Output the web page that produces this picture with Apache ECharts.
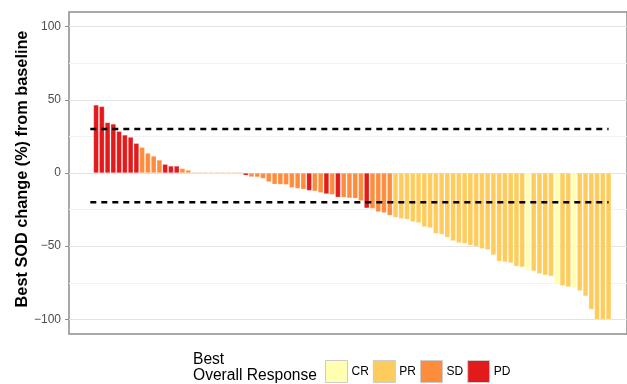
<!DOCTYPE html>
<html>
<head>
<meta charset="utf-8">
<script src="https://cdn.jsdelivr.net/npm/echarts@6/dist/echarts.min.js"></script>
<style>
  html, body { margin: 0; padding: 0; background: #fff; }
  #chart { width: 627px; height: 384px; }
</style>
</head>
<body>
<div id="chart"></div>
<script>
// Best change in sum of diameters (%) per patient, sorted high to low
const sodChange = [
  46.5, 45.5, 34.5, 33.5, 28.5, 26, 24.5, 20.3, 17.6, 13.6,
  11.6, 8.9, 6, 4.8, 4.8, 3.1, 2, 0.6, 0.6, 0.6,
  0.6, 0.6, 0.6, 0.6, 0.6, 0.6, -1.6, -2.7, -2.8, -3.8,
  -6.1, -7.7, -7.8, -8, -10, -10.6, -11.1, -12, -12.4, -13.5,
  -14.3, -14.8, -16.6, -16.6, -17.1, -17.3, -19, -24, -24.3, -26.6,
  -27.2, -29, -30.4, -31.2, -31.7, -33.4, -34, -36.8, -37.5, -41.4,
  -42, -44, -46.4, -47.7, -48.2, -49.4, -50.3, -51.7, -52.5, -56,
  -60.3, -60.8, -61.4, -63.8, -64.3, -66.6, -67, -68.9, -69.8, -70.5,
  -75.5, -77, -77.8, -78.4, -80.5, -84.1, -93.2, -100, -100, -100
];

// Best overall response per patient, same order
const bestResponse = [
  'PD','PD','PD','PD','PD','PD','PD','PD','SD','SD',
  'SD','SD','PD','PD','PD','SD','SD','SD','SD','SD',
  'SD','SD','SD','SD','SD','SD','PD','SD','SD','SD',
  'SD','SD','SD','SD','SD','SD','SD','PD','SD','SD',
  'PD','SD','PD','SD','SD','SD','SD','PD','SD','SD',
  'SD','SD','PR','PR','PR','PR','PR','PR','PR','PR',
  'PR','PR','PR','PR','PR','PR','PR','PR','PR','PR',
  'PR','PR','PR','PR','PR','CR','PR','PR','PR','PR',
  'CR','PR','PR','CR','PR','PR','PR','PR','PR','PR'
];

const responseLevels = ['CR', 'PR', 'SD', 'PD'];
const responseColors = ['#FFFFB2', '#FECC5C', '#FD8D3C', '#E31A1C'];

// Reference lines for progression and response cut-offs
const thresholds = [30, -20];

const yTicks = [-100, -50, 0, 50, 100];
const yMinorTicks = [-75, -25, 25, 75];

const fontFamily = '"Liberation Sans", Arial, Helvetica, sans-serif';

const barSeries = responseLevels.map((level, k) => ({
  name: level,
  type: 'bar',
  barWidth: '90%',
  barGap: '-100%',
  itemStyle: {
    color: responseColors[k],
    borderColor: 'rgba(255,255,255,0.45)',
    borderWidth: 0.5
  },
  data: sodChange
    .map((v, i) => [i + 1, v, bestResponse[i]])
    .filter(d => d[2] === level)
    .map(d => [d[0], d[1]]),
  silent: true,
  z: 2
}));

const n = sodChange.length;
const lineSeries = thresholds.map(t => ({
  type: 'line',
  data: [[0, t], [n, t]],
  symbol: 'none',
  lineStyle: { color: '#000', width: 2.5, type: [6, 5] },
  silent: true,
  z: 5
}));

const chart = echarts.init(document.getElementById('chart'), null, { renderer: 'canvas' });
chart.setOption({
  animation: false,
  backgroundColor: '#fff',
  grid: {
    left: 69, right: -1, top: 12, bottom: 50,
    show: true, borderColor: '#8c8c8c', borderWidth: 1.5, backgroundColor: 'transparent'
  },
  xAxis: {
    type: 'value',
    min: -3.7,
    max: 93.2,
    show: false
  },
  yAxis: [{
    type: 'value',
    min: -110,
    max: 110,
    name: 'Best SOD change (%) from baseline',
    nameLocation: 'middle',
    nameRotate: 90,
    nameGap: 38,
    nameMoveOverlap: false,
    nameTextStyle: { fontFamily, fontSize: 16.3, fontWeight: 'bold', color: '#000', padding: [0, 0, 0, 8] },
    axisLine: { show: false, onZero: false },
    axisTick: { show: true, length: 4, lineStyle: { color: '#8c8c8c', width: 1 }, customValues: yTicks },
    axisLabel: {
      fontFamily, fontSize: 12, color: '#4d4d4d', margin: 8,
      customValues: yTicks,
      formatter: v => (v < 0 ? '\u2212' + Math.abs(v) : String(v))
    },
    splitLine: { show: true, lineStyle: { color: '#e3e3e3', width: 1.2 } }
  }, {
    type: 'value',
    min: -110,
    max: 110,
    position: 'left',
    axisLine: { show: false, onZero: false },
    axisTick: { show: false, customValues: yMinorTicks },
    axisLabel: { show: false, customValues: yMinorTicks },
    splitLine: { show: true, lineStyle: { color: '#f2f2f2', width: 1 } }
  }],
  legend: {
    data: responseLevels,
    left: 320,
    top: 355,
    itemWidth: 22,
    itemHeight: 22,
    itemGap: 4,
    icon: 'rect',
    selectedMode: false,
    itemStyle: { borderColor: '#cccccc', borderWidth: 1 },
    textStyle: { fontFamily, fontSize: 12, color: '#000', padding: [0, 0, 0, -1] }
  },
  graphic: [{
    type: 'text',
    left: 193,
    top: 352,
    style: {
      text: 'Best\nOverall Response',
      fontFamily, fontSize: 15.6, lineHeight: 16, fill: '#000'
    }
  }],
  series: [...barSeries, ...lineSeries]
});
</script>
</body>
</html>
